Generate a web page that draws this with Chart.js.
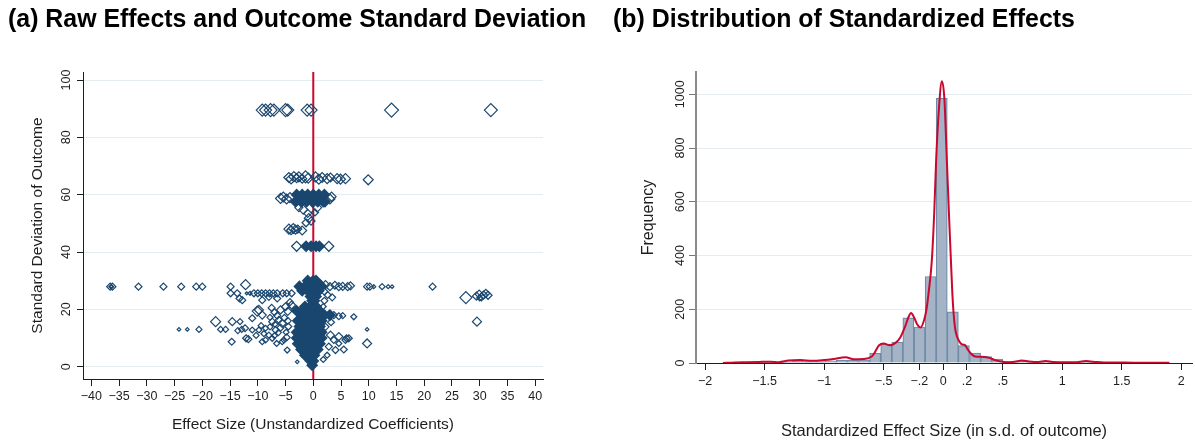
<!DOCTYPE html>
<html>
<head>
<meta charset="utf-8">
<title>Effects and outcome standard deviations</title>
<script src="https://cdn.jsdelivr.net/npm/chart.js@4.4.1/dist/chart.umd.min.js"></script>
<style>
  html, body { margin: 0; padding: 0; background: #fff; }
  #wrap { position: relative; width: 1195px; height: 440px; overflow: hidden; }
  #wrap canvas { position: absolute; top: 0; }
  #rawChart { left: 0; }
  #stdChart { left: 600px; }
</style>
</head>
<body>
<div id="wrap">
  <canvas id="rawChart" width="600" height="440"></canvas>
  <canvas id="stdChart" width="595" height="440"></canvas>
</div>
<script>
// ---------------- Panel (a): raw effects vs. outcome SD ----------------
// Individual estimates drawn as hollow diamonds, sized by weight.
const effectSize = [
  // SD ≈ 89
  -9.2, -8.6, -7.7, -7.1, -5.0, -4.6, -1.1, -0.4, 14.1, 32.0,
  // SD ≈ 66
  -4.4, -4.0, -3.5, -3.0, -2.6, -2.0, -1.4, -0.9, 0.4, 1.0, 1.6, 2.5, 3.1, 4.3, 4.9, 5.8, 9.9,
  // SD ≈ 50–59
  -5.9, -5.4, -4.8, -4.2, 3.0, 3.3, -2.6, -1.8, -1.0, 0.7, -0.8, -1.3, -0.4, 0.3,
  // SD ≈ 42–48
  -4.4, -4.0, -3.6, -3.2, -2.8, -2.0, -3.0, 2.8,
  // SD ≈ 28, large negative effects
  -36.6, -36.2, -36.4, -31.5, -27.0, -23.8, -21.1, -20.0, -14.9, -12.2,
  // SD ≈ 23–26
  -14.9, -13.7, -13.3, -12.0, -11.4, -10.7, -10.0, -9.3, -8.6, -7.9,
  -7.2, -6.5, -5.5, -4.8, -3.9, -6.5, -9.2, -8.0, -12.8,
  // SD below 23, negative side
  -17.6, -14.6, -13.2, -12.3, -16.7, -15.8, -20.6, -24.2, -22.7, -14.7,
  -12.1, -11.7, -11.0, -10.1, -9.2, -11.0, -9.8, -8.6, -8.6, -7.4,
  -6.8, -6.2, -5.9, -5.3, -4.7, -5.6, -7.4, -8.0, -9.8, -5.0,
  -4.6, -5.6, -2.9, -9.4, -8.9, -7.8, -7.0, -6.3, -5.9, -4.9,
  -4.8, -6.6, -9.2, -10.3, -12.9, -13.6, -7.5, -7.0, -6.5, -5.2,
  -4.6, -4.5, -6.9, -7.8, -3.9, -4.2,
  // positive side
  1.2, 2.2, 3.0, 3.9, 4.6, 5.3, 6.2, 6.7, 2.0, 2.6,
  3.4, 2.0, 1.8, 9.7, 10.2, 10.9, 12.4, 13.5, 14.2, 21.5,
  27.5, 29.4, 29.9, 30.3, 30.7, 31.1, 31.5, 30.0, 29.5, 9.7,
  9.7, 2.8, 3.7, 4.6, 5.3, 7.3, 5.8, 6.0, 5.5, 4.0,
  3.1, 2.2, 3.7, 4.6, 4.6, 6.4, 2.8, 3.2, 2.5, 1.8
];
const outcomeSD = [
  89.5, 89.5, 89.5, 89.5, 89.5, 89.5, 89.5, 89.5, 89.5, 89.5,
  66.0, 65.5, 66.3, 65.8, 66.2, 65.6, 66.2, 65.8, 66.2, 65.4, 66.0, 65.6, 66.0, 65.6, 65.4, 65.6, 65.2,
  58.7, 59.2, 58.5, 59.0, 58.5, 59.3, 55.5, 54.8, 53.5, 55.5, 51.8, 50.2, 50.8, 53.8,
  48.0, 47.6, 48.2, 47.8, 48.0, 47.5, 42.0, 42.0,
  27.9, 27.9, 27.9, 27.9, 27.9, 27.9, 27.9, 27.9, 27.9, 28.6,
  25.6, 25.6, 23.8, 25.6, 25.6, 25.6, 25.6, 25.6, 25.6, 25.6,
  25.6, 25.6, 25.6, 25.6, 25.6, 23.8, 23.2, 24.2, 23.2,
  15.7, 15.7, 15.7, 13.4, 13.0, 13.0, 13.0, 13.0, 13.0, 8.7,
  9.9, 9.6, 16.9, 19.4, 18.0, 12.8, 12.8, 13.4, 9.3, 9.9,
  12.8, 16.3, 19.8, 9.3, 5.8, 15.1, 15.7, 11.0, 19.8, 20.9,
  19.3, 8.7, 1.7, 14.3, 11.5, 13.9, 10.8, 11.9, 13.6, 12.0,
  10.2, 8.1, 8.7, 10.9, 13.0, 12.6, 20.5, 19.0, 17.8, 17.0,
  16.0, 14.0, 14.8, 17.2, 21.5, 22.5,
  29.0, 28.6, 27.9, 28.4, 27.9, 28.0, 27.9, 28.2, 26.2, 25.0,
  24.2, 23.0, 21.0, 27.9, 27.9, 27.9, 27.9, 27.9, 27.9, 27.9,
  24.1, 24.6, 25.3, 24.3, 25.0, 25.6, 24.9, 24.0, 15.7, 13.0,
  8.1, 18.2, 18.0, 17.6, 17.8, 17.4, 9.3, 9.9, 6.0, 5.8,
  11.0, 13.9, 9.3, 8.1, 10.5, 9.9, 7.0, 15.5, 4.0, 2.5
];
const markerSize = [
  6, 6, 6.5, 6, 6.5, 6, 6, 6, 7, 6.5,
  5, 5, 5, 4.5, 5, 4.5, 6, 5, 5, 5, 5, 5, 4.5, 5, 5, 5, 5,
  5, 5, 5, 5, 5, 4.5, 4, 4.5, 4, 4.5, 4.5, 4, 4, 3.5,
  5, 4.5, 5, 4.5, 4, 4.5, 5, 5,
  3.5, 3.5, 1.5, 3.5, 3.5, 3.5, 3.5, 3.5, 3.5, 5,
  3.5, 3.5, 3.5, 1.5, 2, 3.5, 3.5, 3.5, 3.5, 3.5,
  3.5, 3.5, 3.5, 3.5, 3.5, 3.5, 3.5, 3, 3.5,
  5, 4, 3, 3.5, 3, 3, 3, 1.8, 1.8, 3.5,
  3.5, 3.5, 3.5, 5, 4, 3, 3, 3, 3, 3,
  3.5, 3.5, 4, 3, 3, 4, 3.5, 3, 4.5, 4,
  4, 3, 1.8, 3, 3, 3, 3, 3, 3.5, 3,
  3.5, 3, 3, 3, 3, 3, 3.5, 3.5, 3.5, 3.5,
  3.5, 3.5, 3, 3, 4, 3.5,
  4, 4, 4, 4, 4, 4, 4, 4, 3.5, 3.5,
  3.5, 3.5, 3, 3.5, 3.5, 2, 3, 2, 1.8, 3.5,
  6, 4, 4, 4, 4, 4, 4, 3, 4.5, 1.8,
  4.5, 3.5, 3.5, 3.5, 3, 3, 3.5, 3.5, 3.5, 3.5,
  4, 3.5, 3.5, 3, 4, 3.5, 3.5, 3.5, 3, 3
];
// Heavily overlapping estimates close to zero, one row per outcome SD level.
const denseSD = [60, 57.6, 42, 30, 28, 26.5, 24.5, 23, 21, 19.5, 18, 16, 14, 12, 10, 8, 6, 4, 2, 0.5];
const denseEffect = [
  [-3.0, -2.0, -1.0, 0, 1.0, 2.0],
  [-3.2, -2.2, -1.2, -0.2, 0.8, 1.8, 2.1],
  [-1.3, -0.4, 0.5, 1.1],
  [-1.0, 0, 0.5],
  [-2.5, -1.5, -0.5, 0.5, 1.5],
  [-2.0, -1.0, 0, 1.0],
  [-0.5, 0.5],
  [-0.2, 0.2],
  [-1.5, -0.5, 0.5],
  [-3.0, -2.0, -1.0, 0, 1.0],
  [-2.0, -1.0, 0, 1.0, 2.0, 3.0],
  [-2.8, -1.8, -0.8, 0.2, 1.5],
  [-2.5, -1.5, -0.5, 0.5, 1.2],
  [-3.0, -2.0, -1.0, 0, 1.0, 1.5],
  [-3.0, -2.0, -1.0, 0, 1.0, 1.5],
  [-2.8, -1.8, -0.8, 0.2, 1.2],
  [-2.2, -1.2, -0.2, 0.8],
  [-1.5, -0.5, 0.2],
  [-0.5, 0],
  [-0.2]
];
const rawXTicks = [-40, -35, -30, -25, -20, -15, -10, -5, 0, 5, 10, 15, 20, 25, 30, 35, 40];
const rawYTicks = [0, 20, 40, 60, 80, 100];
const rawXRange = [-41.5, 41.4];
const rawYRange = [-4.3, 102.8];

// ---------------- Panel (b): standardized effects ----------------
const binCenters = [
  -1.783, -1.690, -1.596, -1.503, -1.410, -1.317, -1.224, -1.130, -1.037, -0.944,
  -0.851, -0.758, -0.664, -0.571, -0.478, -0.385, -0.292, -0.198, -0.105, -0.012,
  0.081, 0.174, 0.268, 0.361, 0.454, 0.547, 0.640, 0.734, 0.827, 0.920,
  1.013, 1.106, 1.200, 1.293, 1.386, 1.479, 1.572, 1.666, 1.759, 1.852
];
const binCounts = [
  1, 2, 2, 3, 3, 4, 6, 5, 5, 8,
  10, 11, 12, 36, 70, 78, 168, 134, 322, 985,
  190, 65, 37, 24, 15, 5, 6, 7, 4, 5,
  3, 3, 5, 3, 2, 2, 1, 1, 1, 1
];
// Kernel density overlay, in frequency units
const kdeX = [
  -1.85, -1.75, -1.65, -1.55, -1.45, -1.38, -1.3, -1.2, -1.1, -1.0,
  -0.92, -0.82, -0.75, -0.67, -0.6, -0.58, -0.54, -0.5, -0.45, -0.4,
  -0.36, -0.32, -0.29, -0.27, -0.245, -0.22, -0.19, -0.16, -0.14, -0.12,
  -0.095, -0.075, -0.059, -0.035, -0.011, 0.01, 0.031, 0.05, 0.065, 0.077,
  0.087, 0.1, 0.115, 0.13, 0.15, 0.17, 0.185, 0.2, 0.22, 0.24,
  0.27, 0.31, 0.35, 0.395, 0.44, 0.48, 0.53, 0.6, 0.66, 0.72,
  0.8, 0.86, 0.92, 1.0, 1.1, 1.2, 1.26, 1.35, 1.45, 1.6,
  1.75, 1.9
];
const kdeY = [
  0, 2, 3, 4, 5, 3, 9, 11, 8, 11,
  15, 21, 14, 15, 24, 35, 65, 73, 66, 75,
  95, 135, 172, 186, 170, 145, 132, 160, 200, 270,
  383, 560, 755, 950, 1049, 985, 755, 540, 383, 260,
  188, 130, 100, 85, 72, 68, 66, 55, 42, 32,
  24, 23, 22, 18, 10, 6, 3, 5, 9, 6,
  4, 7, 4, 3, 3, 7, 5, 2, 2, 1,
  1, 1
];
const stdXTicks = [-2, -1.5, -1, -0.5, -0.2, 0, 0.2, 0.5, 1, 1.5, 2];
const stdXLabels = ['−2', '−1.5', '−1', '−.5', '−.2', '0', '.2', '.5', '1', '1.5', '2'];
const freqTicks = [0, 200, 400, 600, 800, 1000];
const stdXRange = [-2.076, 2.09];
const freqRange = [0, 1083];

// ---------------- Styling ----------------
const FONT = "'Liberation Sans', Arial, Helvetica, sans-serif";
const NAVY = '#1a476f';
const RED = '#c9082f';
const INK = '#1e1e1e';
const GRID = '#e4ecef';

Chart.defaults.font.family = FONT;
Chart.defaults.font.size = 12.5;
Chart.defaults.color = INK;

const fixedTicks = values => scale => { scale.ticks = values.map(v => ({ value: v })); };
const signed = v => (v < 0 ? '\u2212' + (-v) : String(v));
const titleFont = { family: FONT, size: 24.9, weight: 'bold', lineHeight: 1 };

// ---------------- Chart (a) ----------------
const sparsePoints = effectSize.map((x, i) => ({ x, y: outcomeSD[i] }));
const densePoints = [];
denseSD.forEach((sd, r) => denseEffect[r].forEach(x => densePoints.push({ x, y: sd })));

new Chart(document.getElementById('rawChart'), {
  type: 'scatter',
  data: {
    datasets: [
      {
        type: 'line',
        data: [{ x: 0, y: rawYRange[0] }, { x: 0, y: rawYRange[1] }],
        showLine: true,
        borderColor: RED,
        borderWidth: 2,
        pointRadius: 0,
        order: 3
      },
      {
        data: densePoints,
        pointStyle: 'rectRot',
        pointRadius: 5,
        backgroundColor: NAVY,
        borderColor: NAVY,
        borderWidth: 1.5,
        order: 2
      },
      {
        data: sparsePoints,
        pointStyle: 'rectRot',
        pointRadius: markerSize,
        backgroundColor: 'rgba(0,0,0,0)',
        borderColor: NAVY,
        borderWidth: 1.2,
        order: 1
      }
    ]
  },
  options: {
    responsive: false,
    animation: false,
    events: [],
    layout: { padding: { left: 8, right: 0, top: 0, bottom: 0 } },
    plugins: {
      legend: { display: false },
      tooltip: { enabled: false },
      title: {
        display: true,
        text: '(a) Raw Effects and Outcome Standard Deviation',
        align: 'start',
        color: '#000',
        font: titleFont,
        padding: { top: 7.6, bottom: 39.5 }
      }
    },
    scales: {
      x: {
        type: 'linear',
        min: rawXRange[0],
        max: rawXRange[1],
        afterBuildTicks: fixedTicks(rawXTicks),
        afterFit: s => { s.height = 61; },
        grid: { drawOnChartArea: false, tickLength: 7, tickColor: INK },
        border: { color: INK, width: 1 },
        ticks: { autoSkip: false, maxRotation: 0, padding: 3, callback: v => signed(v) },
        title: {
          display: true,
          text: 'Effect Size (Unstandardized Coefficients)',
          font: { family: FONT, size: 15.5, lineHeight: 1 },
          padding: { top: 0, bottom: 7.25 }
        }
      },
      y: {
        type: 'linear',
        min: rawYRange[0],
        max: rawYRange[1],
        afterBuildTicks: fixedTicks(rawYTicks),
        afterFit: s => { s.width = 75; },
        grid: { color: GRID, lineWidth: 1, tickLength: 6, tickColor: INK },
        border: { color: INK, width: 1 },
        ticks: { autoSkip: false, minRotation: 90, maxRotation: 90, crossAlign: 'center', padding: 0, callback: v => signed(v) },
        title: {
          display: true,
          text: 'Standard Deviation of Outcome',
          font: { family: FONT, size: 15.5, lineHeight: 1 },
          padding: { top: 21.5, bottom: 0 }
        }
      },
      // empty margin on the right of the plot region
      gap: {
        type: 'linear',
        position: 'right',
        afterFit: s => { s.width = 57; },
        grid: { display: false },
        border: { display: false },
        ticks: { display: false }
      }
    }
  }
});

// ---------------- Chart (b) ----------------
new Chart(document.getElementById('stdChart'), {
  type: 'bar',
  data: {
    datasets: [
      {
        type: 'line',
        data: kdeX.map((x, i) => ({ x, y: kdeY[i] })),
        borderColor: RED,
        borderWidth: 2,
        pointRadius: 0,
        cubicInterpolationMode: 'monotone',
        order: 0
      },
      {
        type: 'bar',
        data: binCenters.map((x, i) => ({ x, y: binCounts[i] })),
        backgroundColor: '#a4b4c6',
        borderColor: '#6f8ba6',
        borderWidth: 1.2,
        barPercentage: 1,
        categoryPercentage: 1,
        order: 1
      }
    ]
  },
  options: {
    responsive: false,
    animation: false,
    events: [],
    layout: { padding: { left: 13, right: 3, top: 0, bottom: 0 } },
    plugins: {
      legend: { display: false },
      tooltip: { enabled: false },
      title: {
        display: true,
        text: '(b) Distribution of Standardized Effects',
        align: 'start',
        color: '#000',
        font: titleFont,
        padding: { top: 7.6, bottom: 39.5 }
      }
    },
    scales: {
      x: {
        type: 'linear',
        offset: false,
        min: stdXRange[0],
        max: stdXRange[1],
        afterBuildTicks: fixedTicks(stdXTicks),
        afterFit: s => { s.height = 77; },
        grid: { offset: false, drawOnChartArea: false, tickLength: 7, tickColor: INK },
        border: { color: INK, width: 1 },
        ticks: { autoSkip: false, maxRotation: 0, padding: 4.2, callback: (v, i) => stdXLabels[i] },
        title: {
          display: true,
          text: 'Standardized Effect Size (in s.d. of outcome)',
          font: { family: FONT, size: 16.5, lineHeight: 1 },
          padding: { top: 0, bottom: 0 }
        }
      },
      y: {
        type: 'linear',
        min: freqRange[0],
        max: freqRange[1],
        afterBuildTicks: fixedTicks(freqTicks),
        afterFit: s => { s.width = 83; },
        grid: { color: GRID, lineWidth: 1, tickLength: 7, tickColor: '#777' },
        border: { color: '#8a8a8a', width: 2 },
        ticks: { autoSkip: false, minRotation: 90, maxRotation: 90, crossAlign: 'center', padding: -5, callback: v => String(v) },
        title: {
          display: true,
          text: 'Frequency',
          font: { family: FONT, size: 16, lineHeight: 1 },
          padding: { top: 27.3, bottom: 0 }
        }
      }
    }
  }
});
</script>
</body>
</html>
